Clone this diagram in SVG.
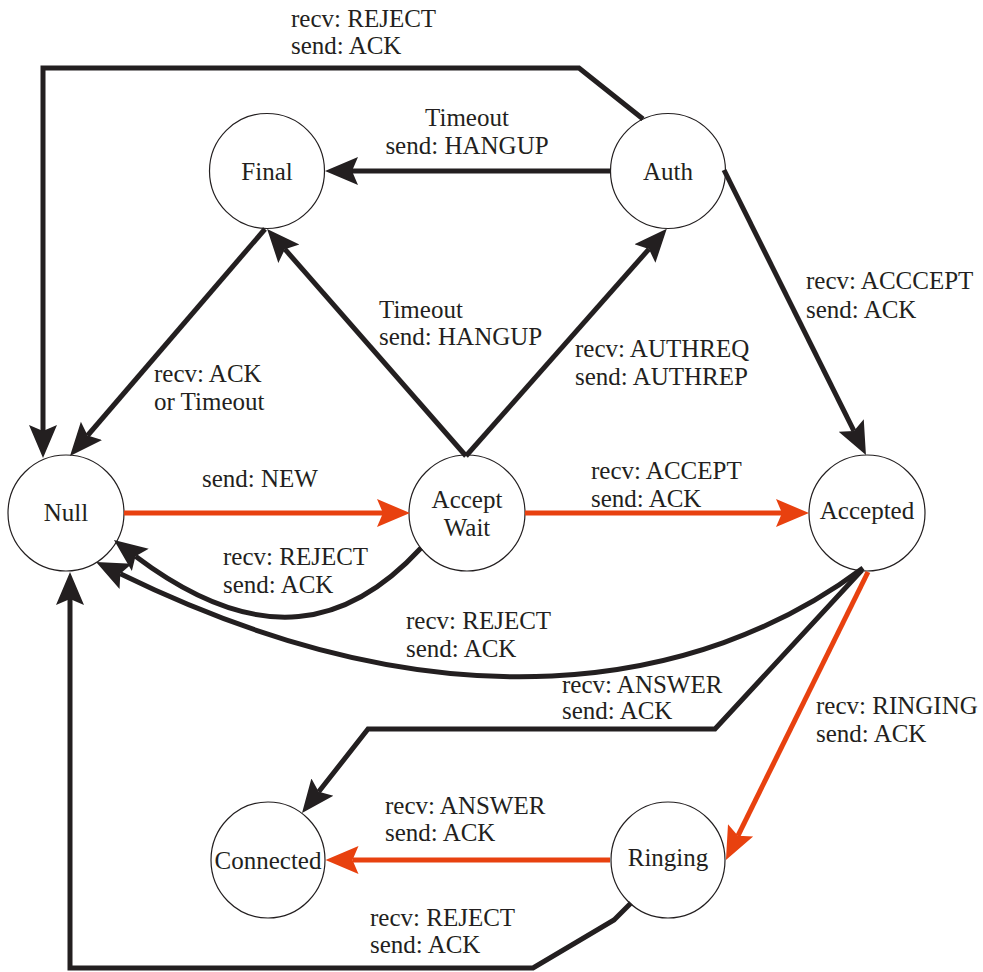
<svg xmlns="http://www.w3.org/2000/svg" width="983" height="972" viewBox="0 0 983 972">
  <style>
    .node { fill: #ffffff; stroke: #231f20; stroke-width: 1.2; }
    .edge { fill: none; stroke: #231f20; stroke-width: 5; stroke-linejoin: miter; }
    .edge.hot { stroke: #e8410f; }
    .dark { marker-end: url(#arrow-dark); }
    .hot { marker-end: url(#arrow-hot); }
    text { font-family: "Liberation Serif", "Times New Roman", serif; font-size: 25px; fill: #231f20; }
    .c { text-anchor: middle; }
  </style>
  <defs>
    <marker id="arrow-dark" markerUnits="userSpaceOnUse" viewBox="0 -15 36 30" markerWidth="36" markerHeight="30" refX="6" refY="0" orient="auto">
      <path d="M33,0 L0,-14 L6,0 L0,14 Z" fill="#231f20"/>
    </marker>
    <marker id="arrow-hot" markerUnits="userSpaceOnUse" viewBox="0 -15 36 30" markerWidth="36" markerHeight="30" refX="6" refY="0" orient="auto">
      <path d="M33,0 L0,-14 L6,0 L0,14 Z" fill="#e8410f"/>
    </marker>
  </defs>

  <!-- states -->
  <g id="node-final"><circle class="node" cx="267" cy="171" r="57.5"/><text class="c" x="267" y="180">Final</text></g>
  <g id="node-auth"><circle class="node" cx="668" cy="171" r="57.5"/><text class="c" x="668" y="180">Auth</text></g>
  <g id="node-null"><circle class="node" cx="66" cy="513" r="58"/><text class="c" x="66" y="521">Null</text></g>
  <g id="node-acceptwait"><circle class="node" cx="467" cy="513" r="58"/><text class="c" x="467" y="508">Accept</text><text class="c" x="467" y="536">Wait</text></g>
  <g id="node-accepted"><circle class="node" cx="867" cy="513" r="58"/><text class="c" x="867" y="519">Accepted</text></g>
  <g id="node-connected"><ellipse class="node" cx="268" cy="860" rx="57" ry="58"/><text class="c" x="268" y="869">Connected</text></g>
  <g id="node-ringing"><ellipse class="node" cx="668" cy="860" rx="57" ry="58"/><text class="c" x="668" y="866">Ringing</text></g>

  <!-- transitions -->
  <g id="connectors">
    <path class="edge dark" d="M643,119 L579,68 L43,68 L43,431"/>
    <path class="edge dark" d="M610,171 L352,171"/>
    <path class="edge dark" d="M724,170 L853.9,430.9"/>
    <path class="edge dark" d="M265,229 L87.6,435.5"/>
    <path class="edge dark" d="M466,456 L284.9,249.2"/>
    <path class="edge dark" d="M466,456 L648.9,249.1"/>
    <path class="edge hot" d="M124,513 L383,513"/>
    <path class="edge hot" d="M525,513 L782,513"/>
    <path class="edge dark" d="M421,548 C350,625 261,651 135.5,556.3"/>
    <path class="edge dark" d="M863,568 C700,690 444,732 120.3,573.8"/>
    <path class="edge dark" d="M862,570 L715,729 L368,729 L318.7,791.8"/>
    <path class="edge hot" d="M868,572 L737.9,835.8"/>
    <path class="edge hot" d="M610,860 L352.5,860"/>
    <path class="edge dark" d="M631,903 L614,920 L533,968 L70,968 L70,599"/>
  </g>

  <!-- transition labels -->
  <g id="labels">
    <text x="291" y="27">recv: REJECT</text><text x="291" y="54">send: ACK</text>
    <text class="c" x="467" y="126">Timeout</text><text class="c" x="467" y="154">send: HANGUP</text>
    <text x="806" y="289">recv: ACCCEPT</text><text x="806" y="318">send: ACK</text>
    <text x="379" y="318">Timeout</text><text x="379" y="345">send: HANGUP</text>
    <text x="575" y="357">recv: AUTHREQ</text><text x="575" y="385">send: AUTHREP</text>
    <text x="154" y="382">recv: ACK</text><text x="154" y="410">or Timeout</text>
    <text x="202" y="487">send: NEW</text>
    <text x="223" y="565">recv: REJECT</text><text x="223" y="593">send: ACK</text>
    <text x="591" y="479">recv: ACCEPT</text><text x="591" y="507">send: ACK</text>
    <text x="406" y="629">recv: REJECT</text><text x="406" y="657">send: ACK</text>
    <text x="562" y="693">recv: ANSWER</text><text x="562" y="719">send: ACK</text>
    <text x="816" y="714">recv: RINGING</text><text x="816" y="742">send: ACK</text>
    <text x="385" y="814">recv: ANSWER</text><text x="385" y="841">send: ACK</text>
    <text x="370" y="926">recv: REJECT</text><text x="370" y="953">send: ACK</text>
  </g>
</svg>
